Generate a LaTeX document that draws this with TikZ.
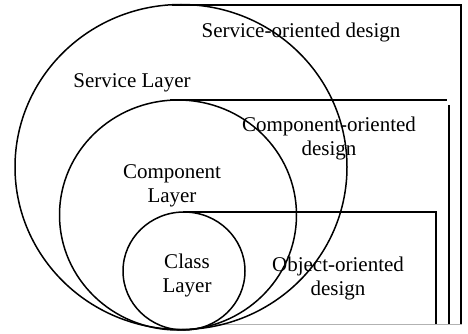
\documentclass[tikz,border=0pt]{standalone}
\usepackage{fontspec}
\setmainfont{Liberation Serif}
\usetikzlibrary{shapes.geometric}
\begin{document}
\begin{tikzpicture}[x=1pt,y=-1pt,
  ring/.style={draw, ellipse, line width=1.5pt, inner sep=0pt},
  edge/.style={line width=1.5pt},
  lbl/.style={font=\fontsize{21}{24}\selectfont, align=center, inner sep=0pt}]
\useasboundingbox (0,0) rectangle (468,334);
% rectangles (design areas)
\coordinate (r1a) at (172,5);
\coordinate (r1b) at (461,5);
\coordinate (r1c) at (461,325);
\coordinate (r2a) at (170,100);
\coordinate (r2b) at (447,100);
\coordinate (r2c) at (449,105);
\coordinate (r2d) at (449,325);
\coordinate (r3a) at (183,212);
\coordinate (r3b) at (436,212);
\coordinate (r3c) at (436,325);
\coordinate (ba) at (210,324);
\coordinate (bb) at (462,324);
\draw[edge] (r1a) -- (r1b) -- (r1c);
\draw[edge] (r2a) -- (r2b);
\draw[edge] (r2c) -- (r2d);
\draw[edge] (r3a) -- (r3b) -- (r3c);
\draw[gray!60, line width=0.8pt] (ba) -- (bb);
% circles (layers)
\node[ring, minimum width=332pt, minimum height=325pt] (service) at (181,167) {};
\node[ring, minimum width=237pt, minimum height=230pt] (component) at (178,215) {};
\node[ring, minimum width=122pt, minimum height=118pt] (class) at (184,271) {};
% labels
\node[lbl] (sod) at (301,32) {Service-oriented design};
\node[lbl] (sl) at (132,83) {Service Layer};
\node[lbl] (cod) at (329,138) {Component-oriented\\design};
\node[lbl] (cl) at (172,186) {Component\\Layer};
\node[lbl] (cll) at (187,275) {Class\\Layer};
\node[lbl] (ood) at (338,278) {Object-oriented\\design};
\end{tikzpicture}
\end{document}
